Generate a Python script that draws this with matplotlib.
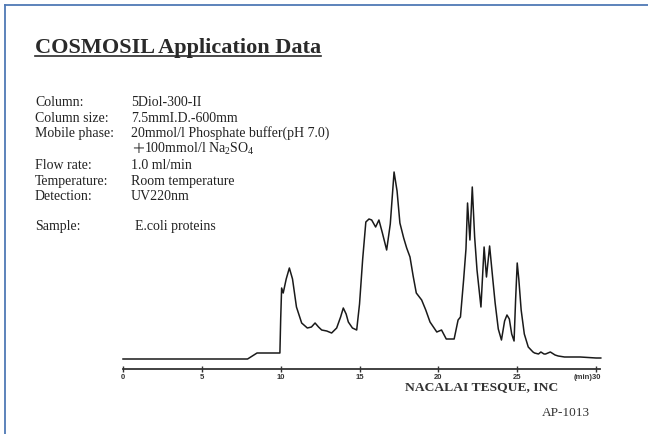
import matplotlib
matplotlib.use("Agg")
import matplotlib.pyplot as plt
from matplotlib.lines import Line2D

plt.rcParams['mathtext.fontset'] = 'custom'
plt.rcParams['mathtext.rm'] = 'Liberation Serif'
plt.rcParams['mathtext.it'] = 'Liberation Serif:italic'
plt.rcParams['mathtext.bf'] = 'Liberation Serif:bold'

# ---- data: retention time (min) and detector signal (relative units) ----
time_min = [0.0, 2.0, 4.0, 6.0, 7.9, 8.2, 8.5, 9.2, 9.95,
            10.0, 10.06, 10.16, 10.35, 10.55, 10.75, 11.0, 11.33, 11.69,
            11.95, 12.18, 12.4, 12.6, 12.92, 13.23, 13.55, 13.8, 13.97,
            14.15, 14.29, 14.55, 14.82, 15.0, 15.2, 15.4, 15.6, 15.77,
            16.02, 16.23, 16.45, 16.72, 16.95, 17.19, 17.38, 17.56, 17.8,
            17.99, 18.2, 18.4, 18.6, 18.94, 19.2, 19.47, 19.9, 20.2,
            20.5, 21.0, 21.25, 21.4, 21.6, 21.75, 21.85, 22.0, 22.15,
            22.3, 22.45, 22.7, 22.9, 23.05, 23.25, 23.45, 23.6, 23.8,
            24.0, 24.2, 24.35, 24.5, 24.65, 24.8, 24.9, 25.0, 25.1,
            25.25, 25.45, 25.7, 26.0, 26.1, 26.35, 26.5, 26.7, 26.8,
            27.1, 27.4, 27.6, 28.0, 29.0, 30.0, 30.3]
signal = [0, 0, 0, 0, 0, 3, 6, 6, 6,
          40, 71, 66, 80, 91, 80, 52, 36, 31,
          32, 36, 32, 29, 28, 26, 31, 42, 51,
          45, 37, 31, 29, 55, 100, 137, 140, 139,
          132, 139, 126, 109, 135, 187, 168, 136, 121,
          111, 102, 83, 66, 59, 49, 37, 27, 29,
          20, 20, 39, 42, 79, 110, 156, 119, 172,
          122, 89, 52, 112, 82, 113, 80, 56, 30,
          19, 38, 44, 40, 25, 18, 60, 96, 80,
          49, 25, 12, 7, 6, 5, 7, 5, 5,
          7, 4, 3, 2, 2, 1, 1]

tick_values = [0, 5, 10, 15, 20, 25, 30]
tick_labels = ['0', '5', '10', '15', '20', '25', '']

info_labels = ["Column:", "Column size:", "Mobile phase:", "", "Flow rate:",
               "Temperature:", "Detection:"]
info_values = ["5Diol-300-II", "7.5mmI.D.-600mm",
               "20mmol/l Phosphate buffer(pH 7.0)", None, "1.0 ml/min",
               "Room temperature", "UV220nm"]

W, H = 648, 434
fig = plt.figure(figsize=(W / 100, H / 100), dpi=100)
fig.patch.set_facecolor('white')

def fx(px):
    return px / W

def fy(py):
    return 1 - py / H

# slide border (top and left)
blue = '#4F79B5'
fig.add_artist(Line2D([fx(5), fx(648)], [fy(4.5), fy(4.5)], color=blue, lw=1.3))
fig.add_artist(Line2D([fx(5), fx(5)], [fy(4.5), fy(434)], color=blue, lw=1.3))

# title
title = fig.text(fx(35), fy(52.5), "COSMOSIL Application Data", family='Liberation Serif',
                 fontweight='bold', fontsize=16, color='#2a2a2a', va='baseline')
fig.canvas.draw()
bb = title.get_window_extent()
fig.add_artist(Line2D([bb.x0 / W, bb.x1 / W], [fy(56), fy(56)], color='#2a2a2a', lw=1.2))

# info block (baselines)
ys = [106, 121.5, 137, 153, 169, 185, 200.5]
serif = 'Liberation Serif'
fs = 10
for lab, val, y in zip(info_labels, info_values, ys):
    if lab:
        fig.text(fx(35), fy(y), lab, family=serif, fontsize=fs, va='baseline', color='#222222')
    if val is not None:
        fig.text(fx(131), fy(y), val, family=serif, fontsize=fs, va='baseline', color='#222222')
# second line of mobile phase
fig.text(fx(131), fy(153), "\uff0b", family=['Noto Sans CJK JP', 'DejaVu Sans'],
         fontsize=fs, va='baseline', color='#222222')
fig.text(fx(144), fy(153), "100mmol/l Na$_2$SO$_4$", family=serif, fontsize=fs,
         va='baseline', color='#222222')
fig.text(fx(35), fy(230), "Sample:", family=serif, fontsize=fs, va='baseline', color='#222222')
fig.text(fx(135), fy(230), "E.coli proteins", family=serif, fontsize=fs, va='baseline', color='#222222')

# chromatogram axes
ax = fig.add_axes([fx(123), fy(369), fx(600) - fx(123), fy(160) - fy(369)])
ax.set_facecolor('none')
ax.plot(time_min, signal, color='#1a1a1a', lw=1.1, clip_on=False)
ax.set_xlim(0, 30.25)
ax.set_ylim(-10, 199)
for s in ['top', 'right', 'left']:
    ax.spines[s].set_visible(False)
ax.spines['bottom'].set_linewidth(1.3)
ax.spines['bottom'].set_color('#333333')
ax.set_yticks([])
ax.set_xticks(tick_values)
ax.set_xticklabels(tick_labels)
ax.tick_params(axis='x', direction='inout', length=5, width=1, color='#333333',
               pad=1, labelsize=5.5, labelcolor='#333333')
for t in ax.get_xticklabels():
    t.set_fontweight('bold')
    t.set_family('Liberation Sans')
ax.annotate("(min)30", xy=(30, 0), xycoords=ax.get_xaxis_transform(),
            xytext=(3.5, -3.5), textcoords='offset points', ha='right', va='top',
            fontsize=5.5, fontweight='bold', family='Liberation Sans', color='#333333')

fig.text(fx(405), fy(387), "NACALAI TESQUE, INC", family=serif, fontweight='bold',
         fontsize=9.7, va='center', color='#333333')
fig.text(fx(542), fy(413), "AP-1013", family=serif, fontsize=9.5, va='center', color='#333333')

fig.savefig("out.png", dpi=100)
